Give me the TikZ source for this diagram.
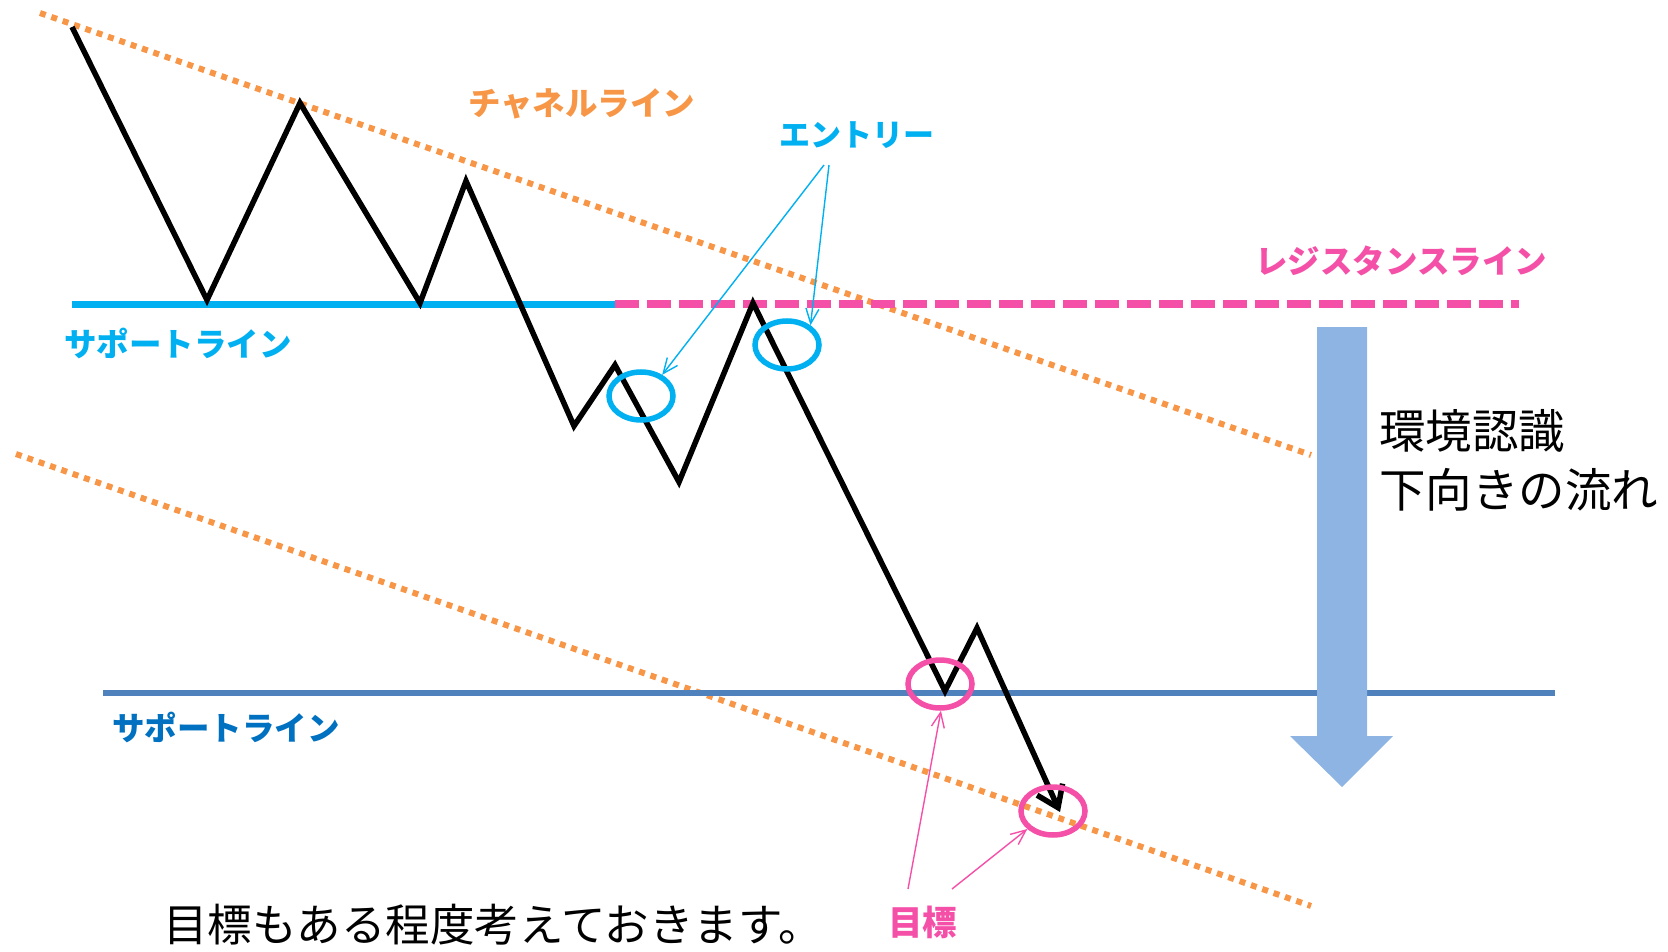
\documentclass[tikz,border=0pt]{standalone}
\usepackage{fontspec}
\newfontfamily\jp{Noto Sans CJK JP}
\usetikzlibrary{arrows.meta,shapes.geometric}
\definecolor{orng}{HTML}{F79646}
\definecolor{cyn}{HTML}{00B0F0}
\definecolor{pnk}{HTML}{F550A8}
\definecolor{sblue}{HTML}{4F81BD}
\definecolor{dblue}{HTML}{0070C0}
\definecolor{lblue}{HTML}{8EB4E3}
\begin{document}
\begin{tikzpicture}[x=1pt,y=-1pt,
  chan/.style={orng, line width=6pt, dash pattern=on 6pt off 6pt},
  price/.style={line width=5.5pt, black},
  ring/.style={ellipse, draw, line width=5.5pt, minimum width=64pt, minimum height=48pt, inner sep=0pt},
  thinarrow/.style={line width=1.4pt, -{Straight Barb[length=15pt,width=13pt]}},
  lbl/.style={inner sep=0pt, anchor=west, font=\jp\bfseries\fontsize{32.5pt}{38pt}\selectfont},
  big/.style={inner sep=0pt, anchor=west, font=\jp\fontsize{46.5pt}{52pt}\selectfont}]
\useasboundingbox (0,0) rectangle (1668,952);
% channel lines
\coordinate (ua) at (40,13);
\coordinate (ub) at (1311,455);
\coordinate (la) at (16,454);
\coordinate (lb) at (1311,906);
\draw[chan] (ua) -- (ub);
\draw[chan] (la) -- (lb);
% support / resistance
\coordinate (s1a) at (72,304);
\coordinate (s1b) at (615,304);
\coordinate (r1b) at (1519,304);
\coordinate (s2a) at (103,693);
\coordinate (s2b) at (1555,693);
\draw[cyn, line width=7pt] (s1a) -- (s1b);
\draw[pnk, line width=8pt, dash pattern=on 24pt off 8pt] (s1b) -- (r1b);
\draw[sblue, line width=6pt] (s2a) -- (s2b);
% big arrow
\fill[lblue] (1317,327) -- (1367,327) -- (1367,736) -- (1393,736) -- (1342,787) -- (1290,736) -- (1317,736) -- cycle;
% price path
\coordinate (p0) at (72,27);
\coordinate (p1) at (207,300);
\coordinate (p2) at (300,103);
\coordinate (p3) at (420,303);
\coordinate (p4) at (466,181);
\coordinate (p5) at (574,426);
\coordinate (p6) at (615,365);
\coordinate (p7) at (679,482);
\coordinate (p8) at (753,303);
\coordinate (p9) at (945,691);
\coordinate (p10) at (977,628);
\coordinate (p11) at (1060,812);
\draw[price, -{Straight Barb[length=20pt,width=28pt]}] (p0) -- (p1) -- (p2) -- (p3) -- (p4) -- (p5) -- (p6) -- (p7) -- (p8) -- (p9) -- (p10) -- (p11);
% rings
\node[ring, cyn] (c1) at (641,396) {};
\node[ring, cyn] (c2) at (787,345) {};
\node[ring, pnk] (c3) at (940,684) {};
\node[ring, pnk] (c4) at (1053,811) {};
% labels
\node[lbl, orng] (chl) at (468,104) {チャネルライン};
\node[lbl, cyn, font=\jp\bfseries\fontsize{31pt}{36pt}\selectfont] (ent) at (779,135) {エントリー};
\node[lbl, cyn] (sup1) at (64,343) {サポートライン};
\node[lbl, pnk] (res) at (1255,261) {レジスタンスライン};
\node[lbl, dblue] (sup2) at (112,727) {サポートライン};
\node[big] (env1) at (1379,431) {環境認識};
\node[big] (env2) at (1379,490) {下向きの流れ};
\node[inner sep=0pt, anchor=west, font=\jp\fontsize{44.5pt}{50pt}\selectfont] (note) at (163,925) {目標もある程度考えておきます。};
\node[lbl, pnk, font=\jp\bfseries\fontsize{34.5pt}{40pt}\selectfont] (tgt) at (888,922) {目標};
% pointer arrows
\coordinate (e1) at (824,165);
\coordinate (e2) at (829,165);
\coordinate (t1) at (908,889);
\coordinate (t2) at (952,889);
\draw[thinarrow, cyn] (e1) -- (c1.45);
\draw[thinarrow, cyn] (e2) -- (c2.40);
\draw[thinarrow, pnk] (t1) -- (c3.-88);
\draw[thinarrow, pnk] (t2) -- (c4.215);
\end{tikzpicture}
\end{document}
